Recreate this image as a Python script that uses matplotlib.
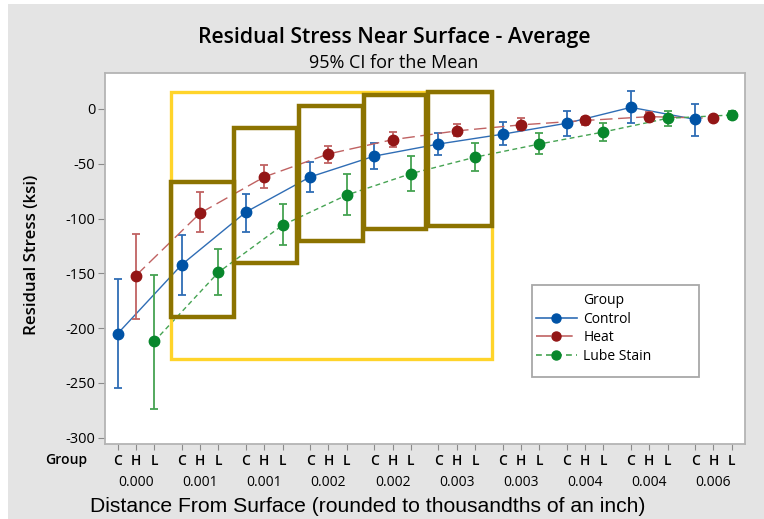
import matplotlib
matplotlib.use("Agg")
import matplotlib.pyplot as plt
from matplotlib.lines import Line2D
from matplotlib.patches import Rectangle

plt.rcParams["font.family"] = ["Open Sans", "DejaVu Sans"]
plt.rcParams["axes.unicode_minus"] = False

# distance bins (as printed on the axis) and group codes
distance = ["0.000", "0.001", "0.001", "0.002", "0.002",
            "0.003", "0.003", "0.004", "0.004", "0.006"]
codes = ["C", "H", "L"]
groups = ["Control", "Heat", "Lube Stain"]

# means and 95% CI limits (ksi)
control_mean = [-205, -142, -94, -62, -43, -32, -23, -13, 1.5, -9.5]
control_lo = [-255, -170, -112, -76, -55, -42, -33, -25, -13, -25]
control_hi = [-155, -115, -78, -48, -31, -22, -12, -1.5, 16.5, 4.5]

heat_mean = [-152, -95, -62, -41, -28, -20, -14.5, -10.5, -7, -8.5]
heat_lo = [-192, -112, -72, -49.5, -35, -25, -19, -14.5, -11, -10.5]
heat_hi = [-114, -76, -51.5, -33.5, -21, -14, -8, -7.5, -3, -6.5]

lube_mean = [-212, -149, -106, -78.5, -59, -44, -32, -21, -8.5, -5.5]
lube_lo = [-274, -170, -124, -96.5, -74.5, -56.5, -41, -29, -15.5, -9]
lube_hi = [-151.5, -128, -86.5, -59, -43, -31.5, -22, -12.5, -1.5, -2]

# highlight boxes (x0, x1, y0, y1) in data units
outer_box = (2.89, 20.40, -228.4, 15.8)
inner_boxes = [
    (2.89, 6.34, -190.1, -66.3),
    (6.34, 9.77, -140.3, -17.1),
    (9.91, 13.37, -120.5, 3.0),
    (13.45, 16.82, -109.8, 12.8),
    (16.95, 20.40, -106.8, 15.8),
]

series = [
    (control_mean, control_lo, control_hi, "#0053a6", "#2f6db5", "-"),
    (heat_mean, heat_lo, heat_hi, "#931616", "#c06262", (0, (9, 4))),
    (lube_mean, lube_lo, lube_hi, "#08872c", "#45a352", (0, (3.5, 2.5))),
]

BG = "#e4e4e4"
fig = plt.figure(figsize=(7.64, 5.19), dpi=100, facecolor=BG)
fig.patches.append(Rectangle((0, 0), 8 / 764, 1, transform=fig.transFigure,
                             facecolor="white", edgecolor="none", zorder=0))
fig.patches.append(Rectangle((0, 1 - 4 / 519), 1, 4 / 519, transform=fig.transFigure,
                             facecolor="white", edgecolor="none", zorder=0))
ax = fig.add_axes([105 / 764, 75 / 519, 640 / 764, 371.3 / 519])
ax.set_facecolor("white")

n = len(distance)
for k, (mean, lo, hi, mcol, lcol, ls) in enumerate(series):
    xs = [3.5 * i + k for i in range(n)]
    yerr = [[m - a for m, a in zip(mean, lo)], [b - m for m, b in zip(mean, hi)]]
    ax.errorbar(xs, mean, yerr=yerr, fmt="none", ecolor=lcol, elinewidth=1.3,
                capsize=2.7, capthick=1.3, zorder=2)
    ax.plot(xs, mean, color=lcol, lw=1.0, linestyle=ls, zorder=2)
    ax.plot(xs, mean, "o", color=mcol, markersize=7.5, zorder=3)

x0, x1, y0, y1 = outer_box
ax.add_patch(Rectangle((x0, y0), x1 - x0, y1 - y0, fill=False,
                       edgecolor="#ffd42a", lw=2.4, zorder=4))
for x0, x1, y0, y1 in inner_boxes:
    ax.add_patch(Rectangle((x0, y0), x1 - x0, y1 - y0, fill=False,
                           edgecolor="#8c7300", lw=3.2, zorder=5))

ax.set_xlim(-0.69, 34.22)
ax.set_ylim(-305.7, 33.1)
ax.set_yticks(range(0, -301, -50))
ax.tick_params(axis="y", labelsize=10.5, length=5, color="#8a8a8a", pad=2)

xt = [3.5 * i + k for i in range(n) for k in range(3)]
ax.set_xticks(xt)
ax.set_xticklabels(codes * n, fontsize=10, fontweight="semibold")
ax.tick_params(axis="x", length=4, color="#8a8a8a", pad=3)

for s in ax.spines.values():
    s.set_color("#b4b4b4")
    s.set_linewidth(1.3)

xtr = ax.get_xaxis_transform()
for i, d in enumerate(distance):
    ax.text(3.5 * i + 1, -0.104, d, transform=xtr, ha="center", va="center",
            fontsize=10)
fig.text(66 / 764, 1 - 460 / 519, "Group", ha="center", va="center",
         fontsize=10, fontweight="semibold")

fig.text(394 / 764, 1 - 37 / 519, "Residual Stress Near Surface - Average",
         ha="center", va="center", fontsize=15.3, fontweight="semibold")
fig.text(394 / 764, 1 - 63 / 519, "95% CI for the Mean",
         ha="center", va="center", fontsize=13)
fig.text(368 / 764, 1 - 506 / 519,
         "Distance From Surface (rounded to thousandths of an inch)",
         ha="center", va="center", fontsize=15.2, family="Liberation Sans")
fig.text(32 / 764, 1 - 255 / 519, "Residual Stress (ksi)", rotation=90,
         ha="center", va="center", fontsize=12.2, fontweight="semibold")

# legend with a fixed frame
ax.add_patch(Rectangle((0.6667, 0.1804), 0.262, 0.2478, transform=ax.transAxes,
                       facecolor="white", edgecolor="#a8a8a8", lw=1.3, zorder=6))
handles = [Line2D([], [], alpha=0)]
for mean, lo, hi, mcol, lcol, ls in series:
    handles.append(Line2D([], [], color=lcol, lw=1.2, linestyle=ls,
                          marker="o", markersize=6.5, markerfacecolor=mcol,
                          markeredgecolor=mcol))
leg = ax.legend(handles, ["Group"] + groups, loc="upper left",
                bbox_to_anchor=(0.6586, 0.432), frameon=False, fontsize=10,
                handlelength=2.9, handletextpad=0.5, labelspacing=0.25,
                borderpad=0.2)
leg.set_zorder(7)

fig.savefig("out.png", dpi=100, facecolor=BG)
